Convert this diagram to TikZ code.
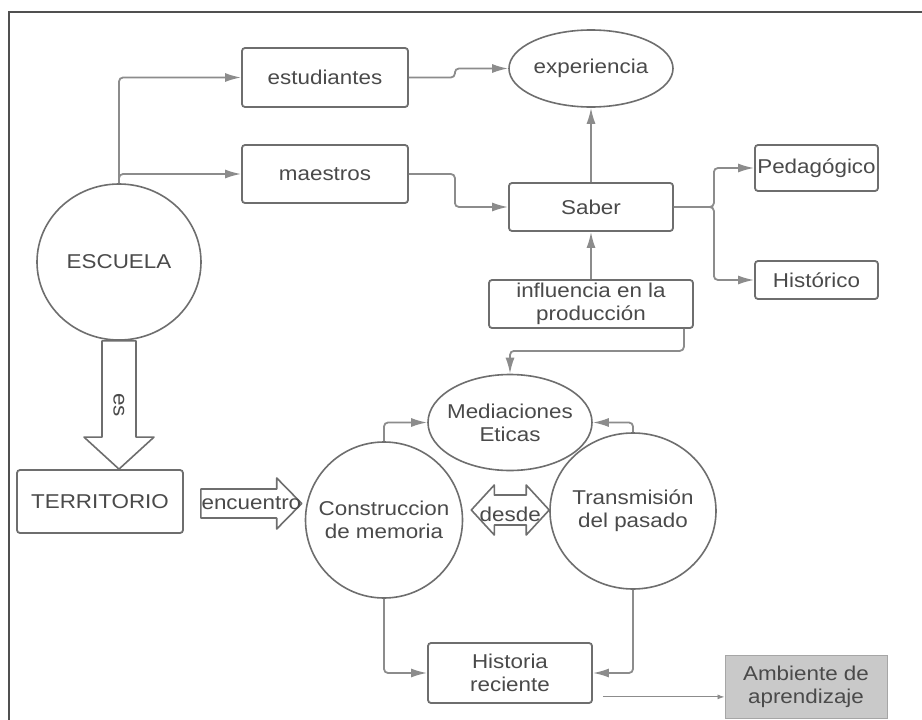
\documentclass[tikz,border=0pt]{standalone}
\usepackage{fontspec}
\setmainfont{Liberation Sans}[FakeStretch=1.12]
\usetikzlibrary{shapes.geometric,arrows.meta,calc}
\definecolor{inkgray}{HTML}{4A4A4A}
\definecolor{linegray}{HTML}{8C8C8C}
\definecolor{edgegray}{HTML}{6E6E6E}
\definecolor{fillgray}{HTML}{C9C9C9}
\definecolor{framegray}{HTML}{505050}
\begin{document}
\begin{tikzpicture}[x=1pt,y=-1pt,
  font=\fontsize{20}{23}\selectfont, text=inkgray,
  box/.style={draw=edgegray, line width=1.8pt, rounded corners=3pt, inner sep=0pt, align=center},
  oval/.style={ellipse, draw=edgegray, line width=1.6pt, inner sep=0pt},
  label/.style={inner sep=0pt, align=center},
  shadedbox/.style={draw=gray!70, fill=fillgray, line width=1pt, inner sep=0pt, align=center},
  link/.style={draw=linegray, line width=1.8pt, rounded corners=4pt, -{Latex[length=16pt,width=9pt]}},
  thinlink/.style={draw=linegray, line width=0.9pt, -{Latex[length=7pt,width=5pt]}},
  blockarrow/.style={draw=edgegray, line width=1.6pt, fill=white, line join=round}]

% canvas and frame
\useasboundingbox (0,0) rectangle (922,720);
\fill[white] (0,0) rectangle (922,720);
\draw[framegray, line width=1.4pt] (9,720) -- (9,12) -- (922,12);

% round shapes (outline first, text set on top)
\node[oval, minimum width=164pt, minimum height=156pt] (esc) at (119,262) {};
\node[label] (esctext) at (esc) {ESCUELA};
\node[oval, minimum width=164pt, minimum height=77pt] (exp) at (591,68.5) {};
\node[label] (exptext) at (exp) {experiencia};
\node[oval, minimum width=164pt, minimum height=96pt] (med) at (510,422.5) {};
\node[label] (medtext) at (med) {Mediaciones\\Eticas};
\node[oval, minimum width=157pt, minimum height=156pt] (con) at (384,520) {};
\node[label] (context) at (con) {Construccion\\de memoria};
\node[oval, minimum width=166pt, minimum height=156pt] (tra) at (633,511) {};
\node[label] (tratext) at (tra) {Transmisión\\del pasado};

% boxes
\node[box, minimum width=166pt, minimum height=59pt] (est) at (325,77.5) {estudiantes};
\node[box, minimum width=166pt, minimum height=58pt] (mae) at (325,174) {maestros};
\node[box, minimum width=164pt, minimum height=48pt] (sab) at (591,207) {Saber};
\node[box, minimum width=123pt, minimum height=46pt] (ped) at (816.5,168) {Pedagógico};
\node[box, minimum width=123pt, minimum height=38pt] (his) at (816.5,280) {Histórico};
\node[box, minimum width=204pt, minimum height=48pt] (inf) at (591,304) {influencia en la\\producción};
\node[box, minimum width=166pt, minimum height=63pt] (ter) at (100,501.5) {TERRITORIO};
\node[box, minimum width=164pt, minimum height=60pt] (hre) at (510,673) {Historia\\reciente};
\node[shadedbox, minimum width=162pt, minimum height=63pt] (amb) at (806,686.5) {Ambiente de\\aprendizaje};

% connectors
\draw[link] (esc.north) |- (est.west);
\draw[link] (esc.north) |- (mae.west);
\draw[link] (est.east) -- ++(46,0) |- (exp.west);
\draw[link] (mae.east) -- ++(46,0) |- (sab.west);
\draw[link] (sab.north) -- (exp.south);
\draw[link] (inf.north) -- (sab.south);
\draw[link] (sab.east) -- ++(40,0) |- (ped.west);
\draw[link] (sab.east) -- ++(40,0) |- (his.west);
\draw[link] ($(inf.south east)+(-10,0)$) -- ++(0,22) -| (med.north);
\draw[link] (con.north) |- (med.west);
\draw[link] (tra.north) |- (med.east);
\draw[link] (con.south) |- (hre.west);
\draw[link] (tra.south) |- (hre.east);
\coordinate (hstart) at ($(hre.south east)+(10,-7)$);
\draw[thinlink] (hstart) -- (hstart -| amb.west);

% block arrow "es"
\draw[blockarrow] let \p1=(esc.south), \p2=(ter.north) in
  (\x1-17pt,\y1) -- (\x1-17pt,\y2+32pt) -- (\x1-35pt,\y2+32pt) -- (\x1,\y2)
  -- (\x1+35pt,\y2+32pt) -- (\x1+17pt,\y2+32pt) -- (\x1+17pt,\y1) -- cycle;
\node[label, rotate=-90] (eslabel) at ($(esc.south)!0.5!(esc.south |- ter.north)$) {es};

% block arrow "encuentro"
\draw[blockarrow] let \p1=(ter.east), \p2=(con.west) in
  (\x1+17pt,\y1-2pt+14.5pt) -- (\x2-28pt,\y1-2pt+14.5pt) -- (\x2-28pt,\y1-2pt+25.5pt)
  -- (\x2-3pt,\y1-2pt) -- (\x2-28pt,\y1-2pt-25.5pt) -- (\x2-28pt,\y1-2pt-14.5pt)
  -- (\x1+17pt,\y1-2pt-14.5pt) -- cycle;
\node[label] (enlabel) at ($(ter.east)+(67.5,2)$) {encuentro};

% double block arrow "desde"
\draw[blockarrow] let \p1=(con.east), \p2=(tra.west) in
  (\x1+8pt,\y2+1pt) -- (\x1+31pt,\y2+26pt) -- (\x1+31pt,\y2+16pt)
  -- (\x2-23pt,\y2+16pt) -- (\x2-23pt,\y2+26pt) -- (\x2,\y2+1pt)
  -- (\x2-23pt,\y2-24pt) -- (\x2-23pt,\y2-14pt) -- (\x1+31pt,\y2-14pt)
  -- (\x1+31pt,\y2-24pt) -- cycle;
\node[label] (delabel) at ($(con.east)!0.5!(tra.west)+(4,-1)$) {desde};

\end{tikzpicture}
\end{document}
